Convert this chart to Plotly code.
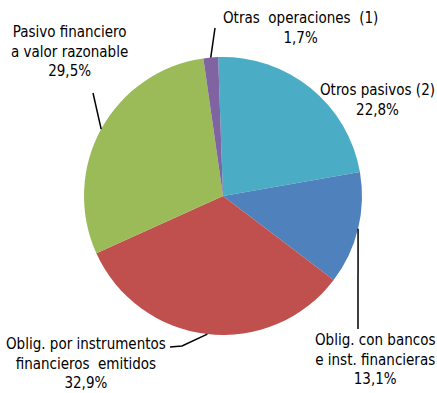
import math
import plotly.graph_objects as go

# Composition of liabilities (share of total, %)
labels = [
    "Otros pasivos (2)",
    "Oblig. con bancos<br>e inst. financieras",
    "Oblig. por instrumentos<br>financieros\u00a0 emitidos",
    "Pasivo financiero<br>a valor razonable",
    "Otras\u00a0 operaciones\u00a0 (1)",
]
values = [22.8, 13.1, 32.9, 29.5, 1.7]
colors = ["#4BACC6", "#4F81BD", "#C0504D", "#9BBB59", "#8064A2"]

W, H = 437, 393
CX, CY, R = 223, 196, 139          # pie centre and radius in pixels
ROTATION = -2                      # start angle, degrees clockwise from 12 o'clock

# label block centres (pixels) and leader-line outer ends (None = no line)
label_pos = [(377, 100), (375, 359), (86, 363), (69, 51), (300, 28)]
leader_end = [None, [(358, 329)], [(170, 347), (182, 346)], [(93, 93)], [(215, 28)]]

FONT = dict(family="DejaVu Sans Condensed", size=15, color="#000000")


def px(x, y):
    return x / W, 1 - y / H


def fmt(v):
    return f"{v:.1f}".replace(".", ",") + "%"


fig = go.Figure(go.Pie(
    labels=labels,
    values=values,
    sort=False,
    direction="clockwise",
    rotation=ROTATION,
    marker=dict(colors=colors, line=dict(width=0)),
    textinfo="none",
    hoverinfo="label+percent",
    showlegend=False,
    domain=dict(x=[(CX - R) / W, (CX + R) / W], y=[1 - (CY + R) / H, 1 - (CY - R) / H]),
))

total = sum(values)
start = ROTATION
shapes, annotations = [], []
for lab, v, pos, ends in zip(labels, values, label_pos, leader_end):
    sweep = 360 * v / total
    mid = math.radians(start + sweep / 2)
    start += sweep
    ex, ey = CX + R * math.sin(mid), CY - R * math.cos(mid)
    if ends:
        pts = list(ends) + [(ex, ey)]
        path = "M " + " L ".join(f"{px(x, y)[0]:.5f},{px(x, y)[1]:.5f}" for x, y in pts)
        shapes.append(dict(type="path", xref="paper", yref="paper", path=path,
                           line=dict(color="#000000", width=1.5)))
    ax, ay = px(*pos)
    annotations.append(dict(text=f"{lab}<br>{fmt(v)}", x=ax, y=ay, xref="paper", yref="paper",
                            xanchor="center", yanchor="middle", showarrow=False, align="center",
                            font=FONT))

fig.update_layout(
    width=W, height=H,
    margin=dict(l=0, r=0, t=0, b=0),
    paper_bgcolor="#FFFFFF",
    plot_bgcolor="#FFFFFF",
    shapes=shapes,
    annotations=annotations,
)

fig.write_html("out.html")
